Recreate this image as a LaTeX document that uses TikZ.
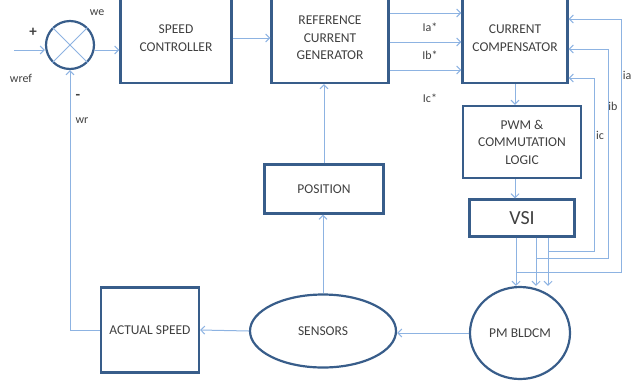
\documentclass[tikz,border=0pt]{standalone}
\usepackage{fontspec}
\setmainfont{Carlito}
\usetikzlibrary{arrows.meta,shapes.geometric}
\definecolor{boxblue}{RGB}{56,93,138}
\definecolor{lineblue}{RGB}{141,179,226}
\definecolor{textgrey}{RGB}{64,64,64}
\newcommand{\blockfont}{\fontsize{13.5}{17.5}\selectfont}
\newcommand{\labelfont}{\fontsize{12}{13}\selectfont}

\tikzset{
    block/.style={draw=boxblue, line width=2.2pt, align=center, text=textgrey, font=\blockfont, inner sep=0pt},
    wire/.style={draw=lineblue, line width=1pt},
    arrow/.style={wire, -{Straight Barb[length=4pt,width=8pt]}},
    sig/.style={text=textgrey, font=\labelfont, inner sep=0pt}
}

\begin{document}
\begin{tikzpicture}[x=1pt, y=-1pt]
    \useasboundingbox (0,0) rectangle (631,381);
    \clip (0,0) rectangle (631,381);

    % Summing junction
    \node[draw=boxblue, circle, line width=2.2pt, minimum size=48pt, inner sep=0pt] (sum) at (70,45) {};
    \draw[wire] (sum.north west) -- (sum.south east);
    \draw[wire] (sum.north east) -- (sum.south west);

    % Blocks
    \node[block, minimum width=111pt, minimum height=90pt] (speed) at (176,38) {SPEED\\CONTROLLER};
    \node[block, minimum width=117pt, minimum height=90pt] (refgen) at (330,38) {REFERENCE\\CURRENT\\GENERATOR};
    \node[block, minimum width=105pt, minimum height=90pt] (comp) at (515,38) {CURRENT\\COMPENSATOR};
    \node[block, minimum width=118pt, minimum height=72pt] (pwm) at (522,142) {PWM \&\\COMMUTATION\\LOGIC};
    \node[block, minimum width=105pt, minimum height=37pt, font=\fontsize{20}{24}\selectfont] (vsi) at (522,218) {VSI};
    \node[block, minimum width=119pt, minimum height=49pt] (pos) at (324,189) {POSITION};
    \node[block, ellipse, minimum width=146pt, minimum height=73pt] (sens) at (323,331) {SENSORS};
    \node[block, ellipse, minimum width=100pt, minimum height=92pt] (motor) at (520,333) {PM BLDCM};
    \node[block, minimum width=98pt, minimum height=85pt] (actual) at (150,330) {ACTUAL SPEED};

    % Speed loop
    \coordinate (ref) at (14,50);
    \draw[arrow] (ref) -- (ref -| sum.west);
    \draw[arrow] (sum.east |- ref) -- (speed.west |- ref);
    \draw[arrow] (speed.east) -- (refgen.west);
    \draw[arrow] (sens.west) -- (actual.east);
    \draw[arrow] (actual.west) -| (sum.south);

    % Current references
    \foreach \y in {13,42,70} {
        \draw[arrow] (refgen.east |- 0,\y) -- (comp.west |- 0,\y);
    }

    % Forward path to the motor
    \draw[arrow] (comp.south) -- (comp.south |- pwm.north);
    \draw[arrow] (pwm.south -| comp.south) -- (vsi.north -| comp.south);

    % Phases and current feedback
    \foreach \px/\by/\fx/\fy in {516/272/621/19, 536/258/608/49, 548/251/594/78} {
        \draw[arrow] (vsi.south -| \px,0) -- (motor.north -| \px,0);
        \draw[arrow] (\px,\by) -- (\fx,\by) -- (\fx,\fy) -- (comp.east |- 0,\fy);
    }

    % Position feedback
    \draw[arrow] (motor.west) -- (motor.west -| sens.east);
    \draw[arrow] (sens.north) -- (sens.north |- pos.south);
    \draw[arrow] (pos.north) -- (pos.north |- refgen.south);

    % Labels
    \node[sig, font=\fontsize{15}{15}\selectfont\bfseries] (plus) at (33,32) {+};
    \node[sig, font=\fontsize{15}{15}\selectfont\bfseries] (minus) at (78,97) {-};
    \node[sig] (wref) at (21,78) {wref};
    \node[sig] (we) at (97,13) {we};
    \node[sig] (wr) at (82,121) {wr};
    \node[sig] (ias) at (430,27) {Ia*};
    \node[sig] (ibs) at (430,55) {Ib*};
    \node[sig] (ics) at (430,98) {Ic*};
    \node[sig] (ia) at (627,75) {ia};
    \node[sig] (ib) at (613,106) {ib};
    \node[sig] (ic) at (600,135) {ic};
\end{tikzpicture}
\end{document}
